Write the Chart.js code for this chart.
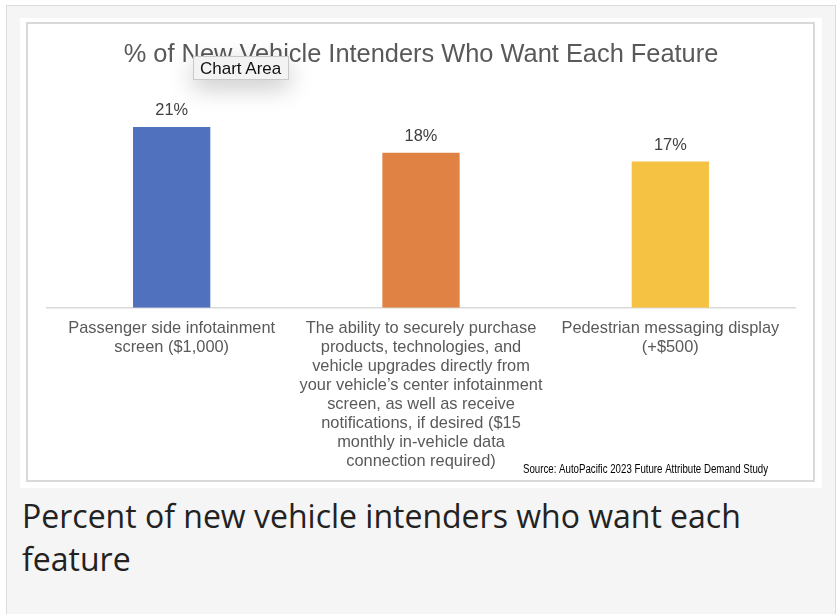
<!DOCTYPE html>
<html>
<head>
<meta charset="utf-8">
<script src="https://cdn.jsdelivr.net/npm/chart.js@4.4.0/dist/chart.umd.min.js"></script>
<style>
  body { margin: 0; background: #fff; width: 838px; height: 614px; overflow: hidden; position: relative; font-family: "Liberation Sans", Arial, sans-serif; }
  #figure { position: absolute; left: 6px; top: 5px; width: 830px; height: 640px; border: 1px solid #dcdcdc; background: #f5f5f5; box-sizing: border-box; }
  #imgbox { position: absolute; left: 20px; top: 18px; width: 802px; height: 470px; background: #fff; }
  #chartbox { position: absolute; left: 26px; top: 22px; width: 789px; height: 460px; border: 2px solid #d9d9d9; box-sizing: border-box; }
  #chartbox canvas { display: block; }
  #tip { position: absolute; left: 193px; top: 56px; width: 96px; height: 24px; box-sizing: border-box; background: #f3f3f3; border: 1px solid #c9c9c9; box-shadow: 0 8px 24px rgba(0,0,0,0.22); font-size: 17px; line-height: 23px; color: #111; padding-left: 6px; }
  #caption { position: absolute; left: 22px; top: 494px; font-family: "Open Sans", sans-serif; font-size: 32px; line-height: 43px; color: #222; }
</style>
</head>
<body>
<div id="figure"></div>
<div id="imgbox"></div>
<div id="chartbox"><canvas id="feature-chart" width="785" height="456"></canvas></div>
<div id="tip">Chart Area</div>
<div id="caption">Percent of new vehicle intenders who want each<br>feature</div>
<script>
// data
const categories = [
  ["Passenger side infotainment", "screen ($1,000)"],
  ["The ability to securely purchase", "products, technologies, and", "vehicle upgrades directly from", "your vehicle\u2019s center infotainment", "screen, as well as receive", "notifications, if desired ($15", "monthly in-vehicle data", "connection required)"],
  ["Pedestrian messaging display", "(+$500)"]
]
const want_pct = [21, 18, 17]
const bar_colors = ["#4f71be", "#df8244", "#f5c243"]
const chart_title = "% of New Vehicle Intenders Who Want Each Feature"
const source_note = "Source: AutoPacific 2023 Future Attribute Demand Study"

// value labels above bars + source line
const labelsPlugin = {
  id: "labels_above",
  afterDatasetsDraw(chart) {
    const ctx = chart.ctx
    const meta = chart.getDatasetMeta(0)
    ctx.save()
    ctx.font = "16.4px 'Liberation Sans', Arial, sans-serif"
    ctx.fillStyle = "#404040"
    ctx.textAlign = "center"
    ctx.textBaseline = "middle"
    meta.data.forEach((bar, i) => {
      ctx.fillText(want_pct[i] + "%", bar.x, bar.y - 16)
    })
    ctx.textAlign = "left"
    ctx.textBaseline = "alphabetic"
    ctx.fillStyle = "#000"
    ctx.font = "12px 'Liberation Sans Narrow', 'Arial Narrow', 'Liberation Sans', sans-serif"
    ctx.fillText(source_note, 495, 449, 245)
    ctx.restore()
  }
}

var ctx1 = document.getElementById("feature-chart").getContext("2d")
var myChart1 = new Chart(ctx1, {
  type: "bar",
  data: {
    labels: categories,
    datasets: [{
      data: want_pct,
      backgroundColor: bar_colors,
      barPercentage: 0.31,
      categoryPercentage: 1.0
    }]
  },
  options: {
    responsive: false,
    animation: false,
    layout: { padding: { left: 19, right: 18, top: 0, bottom: -2 } },
    plugins: {
      legend: { display: false },
      tooltip: { enabled: false },
      title: {
        display: true,
        text: chart_title,
        color: "#595959",
        font: { family: "'Liberation Sans', Arial, sans-serif", size: 25.4, weight: "normal", lineHeight: 1.2 },
        padding: { top: 15.5, bottom: 22.5 }
      }
    },
    scales: {
      x: {
        grid: { display: true, drawOnChartArea: false, drawTicks: false, color: "rgba(0,0,0,0)" },
        border: { display: true, color: "#d9d9d9", width: 1.5 },
        ticks: {
          color: "#595959",
          font: { family: "'Liberation Sans', Arial, sans-serif", size: 16.4, lineHeight: 1.16 },
          padding: 11,
          maxRotation: 0,
          minRotation: 0,
          autoSkip: false
        }
      },
      y: {
        display: false,
        min: 0,
        max: 25
      }
    }
  },
  plugins: [labelsPlugin]
})
</script>
</body>
</html>
